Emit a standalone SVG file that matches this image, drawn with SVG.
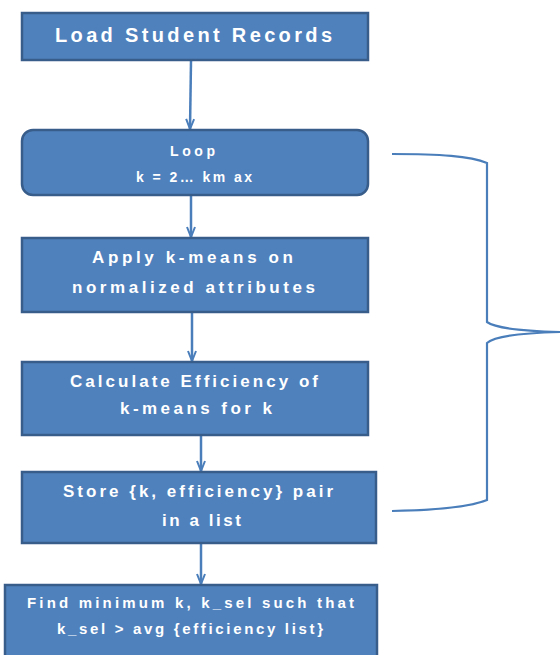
<svg xmlns="http://www.w3.org/2000/svg" width="560" height="655" viewBox="0 0 560 655">
<style>
.box{fill:#4F81BD;stroke:#385D8A;stroke-width:2.5}
.t{fill:#FFFFFF;font-family:"Liberation Sans",Arial,sans-serif;font-weight:bold;text-anchor:start}
.c{fill:none;stroke:#4A7EBB;stroke-width:2.5}
.brace{fill:none;stroke:#4A7EBB;stroke-width:2.2}
</style>
<defs>
<marker id="arr" viewBox="0 0 12 10" refX="11" refY="5" markerWidth="12" markerHeight="10" markerUnits="userSpaceOnUse" orient="auto">
<path d="M1,1 L11,5 L1,9" fill="none" stroke="#4A7EBB" stroke-width="2"/>
</marker>
</defs>
<g id="connectors">
<line class="c" x1="191" y1="61" x2="190" y2="129" marker-end="url(#arr)"/>
<line class="c" x1="191" y1="196" x2="191" y2="237" marker-end="url(#arr)"/>
<line class="c" x1="192" y1="313" x2="192" y2="361" marker-end="url(#arr)"/>
<line class="c" x1="201" y1="436" x2="201" y2="471" marker-end="url(#arr)"/>
<line class="c" x1="201" y1="544" x2="201" y2="584" marker-end="url(#arr)"/>
</g>
<g id="brace">
<path class="brace" d="M392,154 C440,154 470,156 487,163 L487,322 C495,328 520,331 560,332 M560,332 C520,333 495,336 487,343 L487,500 C470,507 440,510 392,511"/>
</g>
<g id="n1">
<rect class="box" x="22" y="13" width="346" height="47"/>
<text class="t" x="55" y="42" font-size="20" textLength="277" lengthAdjust="spacing">Load Student Records</text>
</g>
<g id="n2">
<rect class="box" x="22" y="130" width="346" height="65" rx="11" ry="11"/>
<text class="t" x="170" y="156" font-size="14" textLength="45" lengthAdjust="spacing">Loop</text>
<text class="t" x="136" y="182" font-size="14" textLength="116" lengthAdjust="spacing">k = 2… km ax</text>
</g>
<g id="n3">
<rect class="box" x="22" y="238" width="346" height="74"/>
<text class="t" x="92" y="263" font-size="17" textLength="201" lengthAdjust="spacing">Apply k-means on</text>
<text class="t" x="72" y="293" font-size="17" textLength="243" lengthAdjust="spacing">normalized attributes</text>
</g>
<g id="n4">
<rect class="box" x="22" y="362" width="346" height="73"/>
<text class="t" x="70" y="387" font-size="17" textLength="248" lengthAdjust="spacing">Calculate Efficiency of</text>
<text class="t" x="120" y="414" font-size="17" textLength="152" lengthAdjust="spacing">k-means for k</text>
</g>
<g id="n5">
<rect class="box" x="22" y="472" width="354" height="71"/>
<text class="t" x="63" y="497" font-size="17" textLength="270" lengthAdjust="spacing">Store {k, efficiency} pair</text>
<text class="t" x="162" y="526" font-size="17" textLength="79" lengthAdjust="spacing">in a list</text>
</g>
<g id="n6">
<rect class="box" x="5" y="585" width="372" height="75"/>
<text class="t" x="27" y="608" font-size="15" textLength="327" lengthAdjust="spacing">Find minimum k, k_sel such that</text>
<text class="t" x="57" y="634" font-size="15" textLength="266" lengthAdjust="spacing">k_sel &gt; avg {efficiency list}</text>
</g>
</svg>
